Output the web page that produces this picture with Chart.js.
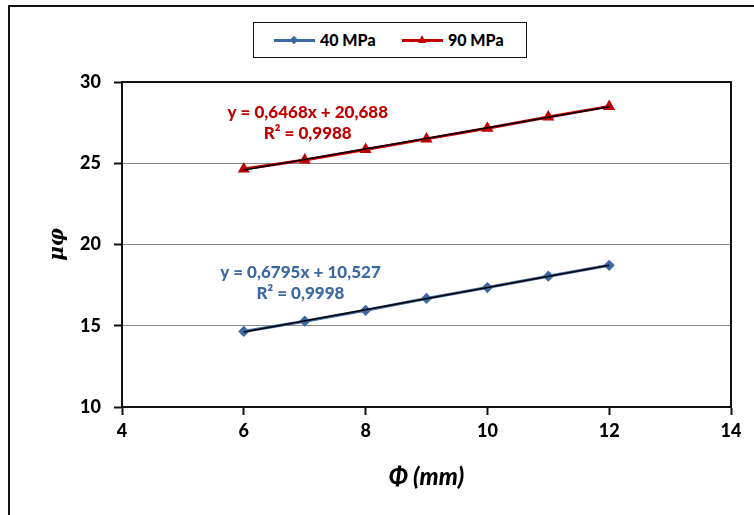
<!DOCTYPE html>
<html>
<head>
<meta charset="utf-8">
<script src="https://cdn.jsdelivr.net/npm/chart.js@4.4.1/dist/chart.umd.min.js"></script>
<style>
    html, body { margin: 0; padding: 0; background: #fff; overflow: hidden; }
    #wrap { position: relative; width: 754px; height: 515px; }
    #frame { position: absolute; left: 8px; top: 5px; width: 800px; height: 600px; border: 2px solid #111; }
    #statsChart { position: absolute; left: 0; top: 0; }
    #legend {
        position: absolute; left: 253px; top: 22px; width: 272px; height: 34px;
        border: 1.5px solid #111; background: #fff;
        font: 900 16px Lato, "Open Sans", sans-serif; color: #000;
    }
    .item { position: absolute; top: 0; height: 34px; line-height: 34px; }
    .swatch { position: absolute; top: 16px; width: 41px; height: 3px; }
    .diamond { position: absolute; left: 17px; top: -2px; width: 6px; height: 6px; transform: rotate(45deg); }
    .tri { position: absolute; left: 16px; top: -4px; width: 0; height: 0;
           border-left: 4px solid transparent; border-right: 4px solid transparent; border-bottom: 8px solid #C00000; }
    .lbl { position: absolute; left: 46px; top: 0; white-space: nowrap; }
</style>
</head>
<body>
<div id="wrap">
    <div id="frame"></div>
    <canvas id="statsChart" width="754" height="515"></canvas>
    <div id="legend">
        <div class="item" style="left:20px">
            <div class="swatch" style="background:#3C68A3"><div class="diamond" style="background:#3C68A3"></div></div>
            <span class="lbl">40 MPa</span>
        </div>
        <div class="item" style="left:148px">
            <div class="swatch" style="background:#C00000"><div class="tri"></div></div>
            <span class="lbl">90 MPa</span>
        </div>
    </div>
</div>
<script>
// Data
const diameters = [6, 7, 8, 9, 10, 11, 12];
const mu40 = [14.65, 15.28, 15.95, 16.68, 17.35, 18.05, 18.72];
const mu90 = [24.65, 25.2, 25.85, 26.5, 27.15, 27.85, 28.5];
const seriesNames = ["40 MPa", "90 MPa"];
const fitText40 = ["y = 0,6795x + 10,527", "R\u00b2 = 0,9998"];
const fitText90 = ["y = 0,6468x + 20,688", "R\u00b2 = 0,9988"];
const xTicks = [4, 6, 8, 10, 12, 14];
const yTicks = [10, 15, 20, 25, 30];

const BLUE = "#3C68A3";
const RED = "#C00000";
const FONT = "Lato, 'Open Sans', sans-serif";

// least squares fit -> line from first to last x
function trend(xs, ys) {
    const n = xs.length;
    const mx = xs.reduce((a, b) => a + b, 0) / n;
    const my = ys.reduce((a, b) => a + b, 0) / n;
    let sxy = 0, sxx = 0;
    xs.forEach((x, i) => { sxy += (x - mx) * (ys[i] - my); sxx += (x - mx) * (x - mx); });
    const b = sxy / sxx, a = my - b * mx;
    const x0 = xs[0], x1 = xs[n - 1];
    return [{ x: x0, y: a + b * x0 }, { x: x1, y: a + b * x1 }];
}

const pts = ys => diameters.map((x, i) => ({ x: x, y: ys[i] }));

// fit equation labels, placed in data units
const fitLabels = [
    { lines: fitText90, color: RED, x: 7.05, y: [28.1, 26.8] },
    { lines: fitText40, color: BLUE, x: 6.93, y: [18.3, 17.0] }
];

const labelPlugin = {
    id: "fitLabels",
    afterDatasetsDraw(chart) {
        const { ctx, scales: { x, y }, chartArea } = chart;
        ctx.save();
        // plot area border (top / right)
        ctx.strokeStyle = "#111";
        ctx.lineWidth = 2;
        ctx.beginPath();
        ctx.moveTo(chartArea.left, chartArea.top);
        ctx.lineTo(chartArea.right, chartArea.top);
        ctx.lineTo(chartArea.right, chartArea.bottom);
        ctx.stroke();
        ctx.font = "900 17px " + FONT;
        ctx.textAlign = "center";
        ctx.textBaseline = "middle";
        fitLabels.forEach(l => {
            ctx.fillStyle = l.color;
            l.lines.forEach((t, i) => ctx.fillText(t, x.getPixelForValue(l.x), y.getPixelForValue(l.y[i])));
        });
        ctx.restore();
    }
};

const ctx = document.getElementById("statsChart").getContext("2d");

new Chart(ctx, {
    type: "scatter",
    data: {
        datasets: [
            {
                label: seriesNames[0],
                data: pts(mu40),
                showLine: true,
                borderColor: BLUE,
                backgroundColor: BLUE,
                borderWidth: 3,
                pointStyle: "rectRot",
                pointRadius: 3.5,
                order: 2
            },
            {
                label: seriesNames[1],
                data: pts(mu90),
                showLine: true,
                borderColor: RED,
                backgroundColor: RED,
                borderWidth: 3,
                pointStyle: "triangle",
                pointRadius: 4,
                order: 2
            },
            {
                label: "trend 40",
                data: trend(diameters, mu40),
                showLine: true,
                borderColor: "#000",
                borderWidth: 1.5,
                pointRadius: 0,
                order: 1
            },
            {
                label: "trend 90",
                data: trend(diameters, mu90),
                showLine: true,
                borderColor: "#000",
                borderWidth: 1.5,
                pointRadius: 0,
                order: 1
            }
        ]
    },
    options: {
        responsive: false,
        animation: false,
        layout: { padding: { left: 0, right: 23, top: 82, bottom: 0 } },
        plugins: {
            legend: { display: false },
            tooltip: { enabled: false }
        },
        scales: {
            x: {
                type: "linear",
                min: xTicks[0],
                max: xTicks[xTicks.length - 1],
                afterBuildTicks: s => { s.ticks = xTicks.map(v => ({ value: v })); },
                afterFit: s => { s.height = 108; },
                border: { color: "#111", width: 2 },
                grid: { drawOnChartArea: false, drawTicks: true, tickLength: 8, tickColor: "#111", tickWidth: 2 },
                ticks: { color: "#000", padding: 5, font: { family: FONT, size: 18, weight: "900" } },
                title: {
                    display: true,
                    text: "\u03a6 (mm)",
                    color: "#000",
                    padding: { top: 0, bottom: 23 },
                    font: { family: FONT, size: 24, weight: "900", style: "italic" }
                }
            },
            y: {
                type: "linear",
                min: yTicks[0],
                max: yTicks[yTicks.length - 1],
                afterBuildTicks: s => { s.ticks = yTicks.map(v => ({ value: v })); },
                afterFit: s => { s.width = 122; },
                border: { color: "#111", width: 2 },
                grid: {
                    color: c => c.tick && c.tick.value === yTicks[yTicks.length - 1] ? "#111" : "#8c8c8c",
                    lineWidth: 1,
                    drawTicks: true,
                    tickLength: 8,
                    tickColor: "#111",
                    tickWidth: 2
                },
                ticks: { color: "#000", padding: 13, font: { family: FONT, size: 18, weight: "900" } },
                title: {
                    display: true,
                    text: "\u03bc\u03c6",
                    color: "#000",
                    padding: { top: 46, bottom: 0 },
                    font: { family: "'DejaVu Serif', serif", size: 20, weight: "bold", style: "italic" }
                }
            }
        }
    },
    plugins: [labelPlugin]
});
</script>
</body>
</html>
